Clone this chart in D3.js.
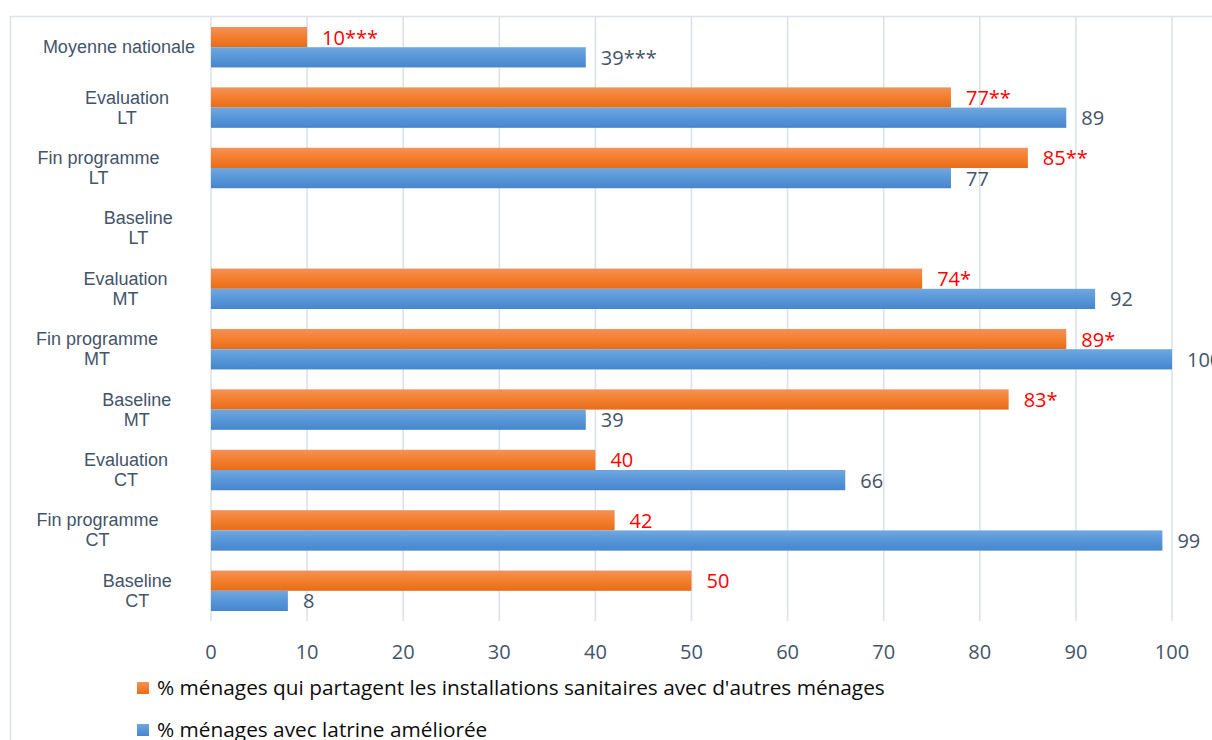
<!DOCTYPE html>
<html>
<head>
<meta charset="utf-8">
<script src="https://cdn.jsdelivr.net/npm/d3@7"></script>
<style>
  html, body { margin: 0; padding: 0; background: #fff; }
  svg { display: block; }
</style>
</head>
<body>
<svg id="chart" width="1212" height="740"></svg>
<script>
// Categories, top to bottom; "\n" splits the axis label into two lines
const categories = [
  "Moyenne nationale",
  "Evaluation\nLT",
  "Fin programme\nLT",
  "Baseline\nLT",
  "Evaluation\nMT",
  "Fin programme\nMT",
  "Baseline\nMT",
  "Evaluation\nCT",
  "Fin programme\nCT",
  "Baseline\nCT"
];

// Shared sanitation facilities (orange series)
const sharedValues = [10, 77, 85, null, 74, 89, 83, 40, 42, 50];
const sharedLabels = ["10***", "77**", "85**", "", "74*", "89*", "83*", "40", "42", "50"];

// Improved latrine (blue series)
const latrineValues = [39, 89, 77, null, 92, 100, 39, 66, 99, 8];
const latrineLabels = ["39***", "89", "77", "", "92", "100", "39", "66", "99", "8"];

const xTicks = [0, 10, 20, 30, 40, 50, 60, 70, 80, 90, 100];

const seriesNames = [
  "% ménages qui partagent les installations sanitaires avec d'autres ménages",
  "% ménages avec latrine améliorée"
];

const svg = d3.select("#chart");

const x = d3.scaleLinear().domain([0, 100]).range([211, 1172]);
const y = d3.scaleBand().domain(categories).range([17, 621])
  .paddingInner(0.33).paddingOuter(0.165);
const sub = d3.scaleBand().domain([0, 1]).range([0, y.bandwidth()]);

// Gradients for the bars
const defs = svg.append("defs");
function grad(id, stops) {
  const g = defs.append("linearGradient").attr("id", id)
    .attr("x1", 0).attr("y1", 0).attr("x2", 0).attr("y2", 1);
  stops.forEach(([o, c]) => g.append("stop").attr("offset", o).attr("stop-color", c));
}
grad("gOrange", [[0, "#f39259"], [0.5, "#f47e2b"], [1, "#e56d1b"]]);
grad("gBlue", [[0, "#70a8e0"], [0.5, "#5796d8"], [1, "#4886cc"]]);

// Outer frame
svg.append("line").attr("x1", 10).attr("x2", 1212).attr("y1", 16.5).attr("y2", 16.5)
  .attr("stroke", "#dde2ea").attr("stroke-width", 1.5);
svg.append("line").attr("x1", 10.5).attr("x2", 10.5).attr("y1", 16).attr("y2", 740)
  .attr("stroke", "#dde2ea").attr("stroke-width", 1.5);

// Vertical gridlines
svg.append("g").selectAll("line").data(xTicks).join("line")
  .attr("x1", d => x(d)).attr("x2", d => x(d))
  .attr("y1", 16).attr("y2", 621)
  .attr("stroke", "#dde2ea").attr("stroke-width", 1.6);

// Tick labels
svg.append("g").selectAll("text").data(xTicks).join("text")
  .attr("x", d => x(d)).attr("y", 659)
  .attr("text-anchor", "middle")
  .attr("font-family", "'Open Sans', sans-serif").attr("font-size", 20)
  .attr("fill", "#44546a")
  .text(d => d);

// Category labels (multi-line, centred block right-aligned to the axis)
const catG = svg.append("g")
  .attr("font-family", "'Liberation Sans', Arial, sans-serif")
  .attr("font-size", 18).attr("fill", "#44546a");
categories.forEach(c => {
  const lines = c.split("\n");
  const cy = y(c) + y.bandwidth() / 2;
  const t = catG.append("text").attr("text-anchor", "middle");
  lines.forEach((ln, i) => {
    t.append("tspan").attr("y", cy + (i - (lines.length - 1) / 2) * 20 + 6).text(ln);
  });
  const w = t.node().getBBox().width;
  t.selectAll("tspan").attr("x", 195 - w / 2);
});

// Bars
const series = [
  { values: sharedValues, labels: sharedLabels, fill: "url(#gOrange)", labelColor: "#ff0000" },
  { values: latrineValues, labels: latrineLabels, fill: "url(#gBlue)", labelColor: "#44546a" }
];
series.forEach((s, si) => {
  const rows = categories.map((c, i) => ({ c, v: s.values[i], l: s.labels[i] }))
    .filter(d => d.v != null);
  svg.append("g").selectAll("rect").data(rows).join("rect")
    .attr("x", x(0))
    .attr("y", d => y(d.c) + sub(si))
    .attr("width", d => x(d.v) - x(0))
    .attr("height", sub.bandwidth())
    .attr("fill", s.fill);
  svg.append("g").selectAll("text").data(rows).join("text")
    .attr("x", d => x(d.v) + 15)
    .attr("y", d => y(d.c) + sub(si) + sub.bandwidth() / 2 + 7.5)
    .attr("font-family", "'Open Sans', sans-serif").attr("font-size", 20)
    .attr("fill", s.labelColor)
    .text(d => d.l);
});

// Legend
const legColors = ["url(#gOrange)", "url(#gBlue)"];
const leg = svg.append("g");
seriesNames.forEach((n, i) => {
  const ly = 688 + i * 42;
  leg.append("rect").attr("x", 137).attr("y", ly - 6).attr("width", 12).attr("height", 12)
    .attr("fill", legColors[i]);
  leg.append("text").attr("x", 157).attr("y", ly + 7)
    .attr("font-family", "'Open Sans', sans-serif").attr("font-size", 20.8)
    .attr("fill", "#0d0d0d").text(n);
});
</script>
</body>
</html>
